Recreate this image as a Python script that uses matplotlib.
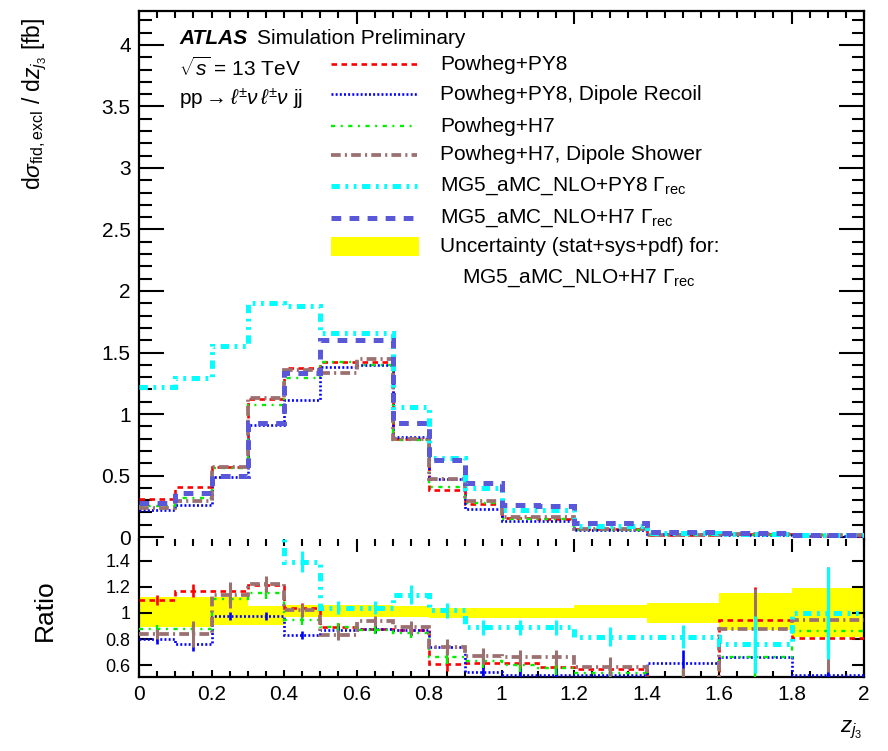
import numpy as np
import matplotlib
matplotlib.use("Agg")
import matplotlib.pyplot as plt
from matplotlib.ticker import MultipleLocator, FuncFormatter, FixedLocator
from matplotlib.lines import Line2D
from matplotlib.patches import Rectangle

# ---------------- data ----------------
edges = [0.0, 0.1, 0.2, 0.3, 0.4, 0.5, 0.6, 0.7, 0.8, 0.9, 1.0, 1.1, 1.2, 1.4, 1.6, 1.8, 2.0]

labels = ["Powheg+PY8", "Powheg+PY8, Dipole Recoil", "Powheg+H7",
          "Powheg+H7, Dipole Shower", r"MG5_aMC_NLO+PY8 $\Gamma_{\rm rec}$",
          r"MG5_aMC_NLO+H7 $\Gamma_{\rm rec}$"]

# main panel: d sigma / d z_j3 [fb]
pw_py8      = [0.31, 0.41, 0.57, 1.12, 1.37, 1.42, 1.42, 0.80, 0.38, 0.27, 0.155, 0.15, 0.063, 0.018, 0.028, 0.012]
pw_py8_dip  = [0.22, 0.26, 0.49, 0.91, 1.11, 1.38, 1.40, 0.81, 0.47, 0.23, 0.13, 0.13, 0.060, 0.025, 0.020, 0.008]
pw_h7       = [0.25, 0.32, 0.56, 1.07, 1.29, 1.42, 1.40, 0.79, 0.41, 0.28, 0.15, 0.145, 0.060, 0.019, 0.020, 0.013]
pw_h7_dip   = [0.235, 0.29, 0.57, 1.13, 1.36, 1.33, 1.45, 0.80, 0.47, 0.29, 0.165, 0.165, 0.065, 0.019, 0.026, 0.014]
mg_py8      = [1.22, 1.29, 1.55, 1.90, 1.88, 1.66, 1.66, 1.06, 0.64, 0.40, 0.22, 0.22, 0.090, 0.033, 0.023, 0.015]
mg_h7       = [0.28, 0.36, 0.50, 0.93, 1.33, 1.60, 1.60, 0.93, 0.63, 0.44, 0.26, 0.25, 0.110, 0.040, 0.030, 0.015]

# ratio panel (to MG5_aMC_NLO+H7)
r_pw_py8     = [1.10, 1.17, 1.17, 1.21, 1.04, 0.89, 0.88, 0.87, 0.61, 0.62, 0.62, 0.59, 0.57, 0.45, 0.95, 0.81]
r_pw_py8_dip = [0.80, 0.76, 0.98, 0.98, 0.83, 0.87, 0.88, 0.87, 0.74, 0.55, 0.53, 0.53, 0.53, 0.62, 0.66, 0.53]
r_pw_h7      = [0.88, 0.88, 1.11, 1.15, 0.95, 0.89, 0.87, 0.85, 0.66, 0.63, 0.60, 0.58, 0.54, 0.47, 0.66, 0.86]
r_pw_h7_dip  = [0.84, 0.84, 1.14, 1.22, 1.02, 0.83, 0.94, 0.89, 0.74, 0.67, 0.66, 0.66, 0.59, 0.48, 0.88, 0.95]
r_mg_py8     = [4.36, 3.58, 3.10, 2.04, 1.39, 1.04, 1.04, 1.14, 1.02, 0.89, 0.89, 0.89, 0.82, 0.82, 0.76, 1.00]

# ratio statistical errors (half widths)
e_pw_py8     = [0.04, 0.05, 0.05, 0.05, 0.04, 0.03, 0.03, 0.04, 0.05, 0.05, 0.05, 0.05, 0.06, 0.10, 0.25, 0.20]
e_pw_py8_dip = [0.04, 0.05, 0.03, 0.03, 0.03, 0.03, 0.03, 0.04, 0.05, 0.05, 0.05, 0.05, 0.06, 0.10, 0.10, 0.10]
e_pw_h7      = [0.03, 0.03, 0.04, 0.04, 0.04, 0.03, 0.03, 0.04, 0.05, 0.05, 0.05, 0.05, 0.06, 0.10, 0.15, 0.15]
e_pw_h7_dip  = [0.04, 0.10, 0.10, 0.06, 0.05, 0.04, 0.04, 0.05, 0.06, 0.06, 0.06, 0.06, 0.07, 0.10, 0.30, 0.40]
e_mg_py8     = [0.10, 0.10, 0.10, 0.10, 0.08, 0.05, 0.05, 0.07, 0.06, 0.06, 0.06, 0.06, 0.07, 0.09, 0.22, 0.35]

# uncertainty band (stat+sys+pdf) for MG5_aMC_NLO+H7
band_up = [1.12, 1.12, 1.12, 1.05, 1.06, 1.06, 1.06, 1.05, 1.04, 1.04, 1.04, 1.04, 1.06, 1.08, 1.15, 1.19]
band_dn = [0.89, 0.89, 0.91, 0.91, 0.97, 0.97, 0.97, 0.97, 0.96, 0.96, 0.96, 0.96, 0.96, 0.92, 0.87, 0.82]

# ---------------- style ----------------
plt.rcParams['font.family'] = ['Liberation Sans', 'DejaVu Sans']
plt.rcParams['mathtext.fontset'] = 'custom'
plt.rcParams['mathtext.rm'] = 'Liberation Sans'
plt.rcParams['mathtext.it'] = 'Liberation Sans:italic'
plt.rcParams['mathtext.bf'] = 'Liberation Sans:bold'
plt.rcParams['lines.scale_dashes'] = False

styles = [
    dict(color='#ff0000', lw=1.9, dashes=(4.0, 3.2)),
    dict(color='#0000ff', lw=1.9, dashes=(1.4, 1.6)),
    dict(color='#00ee00', lw=1.7, dashes=(3.0, 4.0, 1.4, 4.0)),
    dict(color='#9b7070', lw=2.7, dashes=(7.0, 3.0, 1.5, 3.0)),
    dict(color='#00ffff', lw=3.6, dashes=(6.0, 4.0, 2.0, 4.0, 2.0, 4.0)),
    dict(color='#5858d8', lw=3.6, dashes=(7.0, 6.0)),
]

main_vals = [pw_py8, pw_py8_dip, pw_h7, pw_h7_dip, mg_py8, mg_h7]
ratio_vals = [r_pw_py8, r_pw_py8_dip, r_pw_h7, r_pw_h7_dip, r_mg_py8]
ratio_errs = [e_pw_py8, e_pw_py8_dip, e_pw_h7, e_pw_h7_dip, e_mg_py8]

W, H = 888, 751
fig = plt.figure(figsize=(W / 100, H / 100), dpi=100)

def box(l, t, r, b):
    return [l / W, 1 - b / H, (r - l) / W, (b - t) / H]

ax = fig.add_axes(box(139, 11, 864, 539))
rx = fig.add_axes(box(139, 539, 864, 677), facecolor='none')

edges_a = np.array(edges)
centers = 0.5 * (edges_a[1:] + edges_a[:-1])

for vals, st in zip(main_vals, styles):
    s = ax.stairs(vals, edges, baseline=None, color=st['color'], lw=st['lw'], zorder=3)
    s.set_linestyle((0, st['dashes']))

rx.stairs(band_up, edges, baseline=band_dn, fill=True, color='#ffff00', lw=0, zorder=1)
for vals, errs, st in zip(ratio_vals, ratio_errs, styles[:5]):
    s = rx.stairs(vals, edges, baseline=None, color=st['color'], lw=st['lw'], zorder=3)
    s.set_linestyle((0, st['dashes']))
    rx.errorbar(centers, vals, yerr=errs, fmt='none', ecolor=st['color'],
                elinewidth=min(st['lw'], 2.2), capsize=0, zorder=3)

# axes ranges
ax.set_xlim(0, 2)
ax.set_ylim(-0.016, 4.276)
rx.set_xlim(0, 2)
rx.set_ylim(0.511, 1.565)

fmt = FuncFormatter(lambda v, p: ('%g' % round(v, 3)))

# main ticks
ax.yaxis.set_major_locator(MultipleLocator(0.5))
ax.yaxis.set_minor_locator(MultipleLocator(0.1))
ax.yaxis.set_major_formatter(fmt)
ax.xaxis.set_major_locator(MultipleLocator(0.6))
ax.xaxis.set_minor_locator(MultipleLocator(0.05))
ax.tick_params(axis='y', which='major', direction='in', length=18, width=1.5,
               left=True, right=True, labelsize=15, pad=6)
ax.tick_params(axis='y', which='minor', direction='in', length=9, width=1.5,
               left=True, right=True)
ax.tick_params(axis='x', which='major', direction='in', length=9, width=1.5,
               top=True, bottom=True, labelbottom=False)
ax.tick_params(axis='x', which='minor', direction='in', length=5, width=1.5,
               top=True, bottom=True)
for t in ax.xaxis.get_major_ticks() + ax.xaxis.get_minor_ticks():
    t.tick1line.set_marker(3)  # bottom ticks pointing down into ratio area
ax.spines['bottom'].set_visible(False)
for sp in ['top', 'left', 'right']:
    ax.spines[sp].set_linewidth(1.6)

# ratio ticks
rx.yaxis.set_major_locator(FixedLocator([0.6, 0.8, 1.0, 1.2, 1.4]))
rx.yaxis.set_major_formatter(fmt)
rx.xaxis.set_major_locator(MultipleLocator(0.2))
rx.xaxis.set_minor_locator(MultipleLocator(0.05))
rx.xaxis.set_major_formatter(fmt)
rx.tick_params(axis='y', which='major', direction='in', length=9, width=1.5,
               left=True, right=True, labelsize=13, pad=6)
rx.tick_params(axis='x', which='major', direction='in', length=5, width=1.5,
               bottom=True, top=False, labelsize=15, pad=6)
rx.tick_params(axis='x', which='minor', direction='in', length=4, width=1.5,
               bottom=True, top=False)
rx.spines['top'].set_visible(False)
for sp in ['bottom', 'left', 'right']:
    rx.spines[sp].set_linewidth(1.6)

# axis labels
fig.text(35 / W, 1 - 104 / H, r"d$\sigma_{\rm fid,excl}$ / d$z_{j_3}$ [fb]",
         rotation=90, ha='center', va='center', fontsize=16.5)
fig.text(45 / W, 1 - 610 / H, "Ratio", rotation=90, ha='center', va='center', fontsize=19)
fig.text(862 / W, 1 - 730 / H, r"$z_{j_3}$", ha='right', va='center', fontsize=16)

# ATLAS labels
fig.text(179 / W, 1 - 39 / H, "ATLAS", fontsize=15, fontweight='bold', fontstyle='italic',
         ha='left', va='center')
fig.text(257 / W, 1 - 39 / H, "Simulation Preliminary", fontsize=15, ha='left', va='center')
fig.text(179 / W, 1 - 68 / H, r"$\sqrt{s}$ = 13 TeV", fontsize=15, ha='left', va='center')
fig.text(179 / W, 1 - 99 / H, r"pp$\rightarrow\ell^{\pm}\nu\,\ell^{\pm}\nu$ jj", fontsize=15,
         ha='left', va='center')

# legend
rows = [64, 94, 126, 155, 186, 218]
for lab, st, yy in zip(labels, styles, rows):
    ln = Line2D([331 / W, 417 / W], [1 - yy / H, 1 - yy / H], transform=fig.transFigure,
                color=st['color'], lw=st['lw'])
    ln.set_linestyle((0, st['dashes']))
    fig.add_artist(ln)
    fig.text(440 / W, 1 - yy / H, lab, fontsize=15, ha='left', va='center')
fig.add_artist(Rectangle((331 / W, 1 - 256 / H), 88 / W, 19 / H, transform=fig.transFigure,
                         facecolor='#ffff00', edgecolor='none'))
fig.text(440 / W, 1 - 246 / H, "Uncertainty (stat+sys+pdf) for:", fontsize=15,
         ha='left', va='center')
fig.text(462 / W, 1 - 278 / H, r"MG5_aMC_NLO+H7 $\Gamma_{\rm rec}$", fontsize=15,
         ha='left', va='center')

fig.savefig("out.png", dpi=100)
